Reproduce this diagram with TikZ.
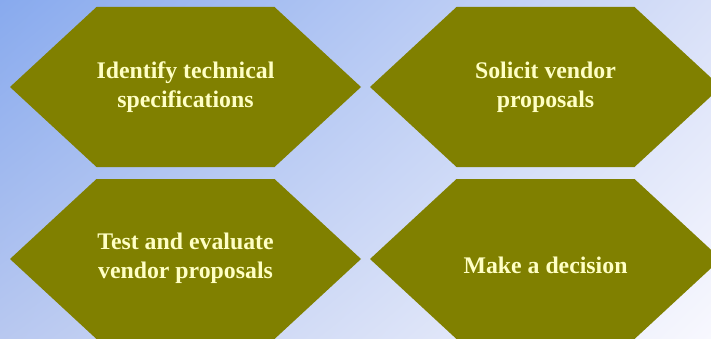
\documentclass[tikz,border=0pt]{standalone}
\usepackage{fontspec}
\setmainfont{Liberation Serif}
\usetikzlibrary{shadings}
\definecolor{hexfill}{RGB}{128,128,0}
\definecolor{hextext}{RGB}{255,255,196}
\definecolor{bgTL}{RGB}{136,170,238}
\definecolor{bgTR}{RGB}{216,224,248}
\definecolor{bgBL}{RGB}{184,200,240}
\definecolor{bgBR}{RGB}{248,248,254}
\def\hexagon(#1,#2){\fill[hexfill] (#1-175.5,#2) -- (#1-89,#2+80) -- (#1+89,#2+80) -- (#1+175.5,#2) -- (#1+89,#2-80) -- (#1-89,#2-80) -- cycle;}
\tikzset{steptext/.style={text=hextext, font=\bfseries\fontsize{23.8}{29}\selectfont, align=center}}

\begin{document}
\begin{tikzpicture}[x=1pt,y=1pt]
			%%%%% START %%%%%
			
			\clip (0, 0) rectangle (711, 338);
			\shade[upper left=bgTL, upper right=bgTR, lower left=bgBL, lower right=bgBR] (0, 0) rectangle (711, 338);
			
			\hexagon(185.5,251)
			\node[steptext] (specs) at (185.5, 251) {Identify technical\\specifications};
			
			\hexagon(545.5,251)
			\node[steptext] (solicit) at (545.5, 251) {Solicit vendor\\proposals};
			
			\hexagon(185.5,79)
			\node[steptext] (evaluate) at (185.5, 80) {Test and evaluate\\vendor proposals};
			
			\hexagon(545.5,79)
			\node[steptext] (decide) at (545.5, 73) {Make a decision};
			
			%%%%% END %%%%%
\end{tikzpicture}
\end{document}
